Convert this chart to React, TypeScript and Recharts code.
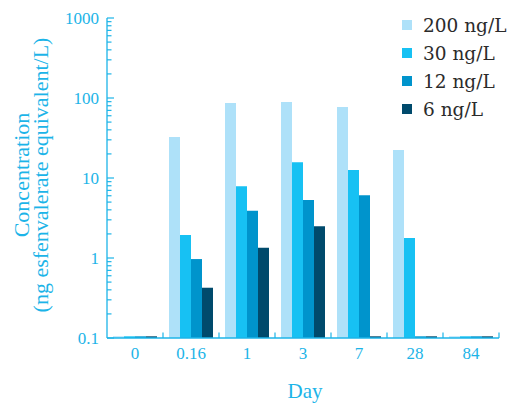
import { BarChart, Bar, XAxis, YAxis, Legend } from "recharts";

const days = ["0", "0.16", "1", "3", "7", "28", "84"];
const conc200 = [0.105, 32.5, 86.6, 89, 77, 22.4, 0.105];
const conc30 = [0.105, 1.94, 7.9, 15.7, 12.6, 1.78, 0.105];
const conc12 = [0.105, 0.97, 3.9, 5.3, 6.1, 0.105, 0.105];
const conc6 = [0.105, 0.425, 1.34, 2.5, 0.105, 0.105, 0.105];
const majorTicks = [0.1, 1, 10, 100, 1000];

const seriesNames = ["200 ng/L", "30 ng/L", "12 ng/L", "6 ng/L"];
const seriesKeys = ["c200", "c30", "c12", "c6"];
const colors = ["#aee1f9", "#17c1f3", "#0094cc", "#004a6c"];

const CYAN = "#1cb4e8";
const SERIF = "'Liberation Serif', serif";
const LEGEND_FONT = "'DejaVu Serif', serif";
const WIDTH = 514;
const HEIGHT = 405;
const PLOT_LEFT = 107;
const PLOT_RIGHT = 499;
const BAND = (PLOT_RIGHT - PLOT_LEFT) / days.length;

const data = days.map((day, i) => ({
  day,
  c200: conc200[i],
  c30: conc30[i],
  c12: conc12[i],
  c6: conc6[i],
}));

// major decades plus 2..9 minor ticks
const yTicks: number[] = [];
majorTicks.forEach((m, i) => {
  yTicks.push(m);
  if (i < majorTicks.length - 1) {
    for (let k = 2; k <= 9; k++) yTicks.push(m * k);
  }
});

function YTick(props: any) {
  const { x, y, payload } = props;
  const v = payload.value;
  const major = majorTicks.some((m) => Math.abs(m - v) < 1e-9);
  return (
    <g>
      <line x1={x} x2={x + (major ? 7 : 4.5)} y1={y} y2={y} stroke={CYAN} strokeWidth={1.2} />
      {major && (
        <text
          x={x - 8}
          y={y}
          textAnchor="end"
          dominantBaseline="central"
          fill={CYAN}
          fontFamily={SERIF}
          fontSize={17}
        >
          {v}
        </text>
      )}
    </g>
  );
}

function XTick(props: any) {
  const { x, y, payload } = props;
  const bx = x + BAND / 2;
  return (
    <g>
      <line x1={bx} x2={bx} y1={y} y2={y - 5.5} stroke={CYAN} strokeWidth={1.2} />
      <text
        x={x}
        y={y + 15}
        textAnchor="middle"
        dominantBaseline="central"
        fill={CYAN}
        fontFamily={SERIF}
        fontSize={17}
      >
        {payload.value}
      </text>
    </g>
  );
}

function YTitle(props: any) {
  const vb = props.viewBox || { y: 18, height: 320 };
  const cy = vb.y + vb.height / 2 - 3;
  return (
    <g fill={CYAN} fontFamily={SERIF} fontSize={22} textAnchor="middle">
      <text transform={`translate(21, ${cy}) rotate(-90)`} dominantBaseline="central">
        Concentration
      </text>
      <text transform={`translate(40, ${cy}) rotate(-90)`} dominantBaseline="central">
        (ng esfenvalerate equivalent/L)
      </text>
    </g>
  );
}

function XTitle(props: any) {
  const vb = props.viewBox || { x: PLOT_LEFT, width: PLOT_RIGHT - PLOT_LEFT };
  return (
    <text x={vb.x + vb.width / 2 + 2} y={398} textAnchor="middle" fill={CYAN} fontFamily={SERIF} fontSize={21}>
      Day
    </text>
  );
}

function LegendBox() {
  return (
    <div style={{ fontFamily: LEGEND_FONT, fontSize: 18.5, color: "#2b2b2b" }}>
      {seriesNames.map((name, i) => (
        <div key={name} style={{ display: "flex", alignItems: "center", height: 28 }}>
          <span
            style={{ width: 10, height: 10, background: colors[i], display: "inline-block", marginRight: 11 }}
          />
          <span>{name}</span>
        </div>
      ))}
    </div>
  );
}

export default function App() {
  return (
    <div style={{ position: "absolute", left: 0, top: 0, width: WIDTH, height: HEIGHT, background: "#fff" }}>
      <BarChart
        width={WIDTH}
        height={HEIGHT}
        data={data}
        margin={{ top: 18, right: WIDTH - PLOT_RIGHT, left: 0, bottom: 0 }}
        barCategoryGap={6}
        barGap={0}
      >
        <XAxis
          dataKey="day"
          height={HEIGHT - 338}
          axisLine={{ stroke: CYAN, strokeWidth: 1.3 }}
          tickLine={false}
          tickSize={0}
          tickMargin={0}
          interval={0}
          tick={<XTick />}
          label={<XTitle />}
        />
        <YAxis
          scale="log"
          domain={[0.1, 1000]}
          ticks={yTicks}
          interval={0}
          allowDataOverflow
          width={PLOT_LEFT}
          axisLine={{ stroke: CYAN, strokeWidth: 1.3 }}
          tickLine={false}
          tickSize={0}
          tickMargin={0}
          tick={<YTick />}
          label={<YTitle />}
        />
        <Legend
          layout="vertical"
          align="center"
          verticalAlign="middle"
          wrapperStyle={{ left: 402, top: 11, width: 112 }}
          content={<LegendBox />}
        />
        {seriesKeys.map((k, i) => (
          <Bar key={k} dataKey={k} name={seriesNames[i]} fill={colors[i]} isAnimationActive={false} />
        ))}
      </BarChart>
    </div>
  );
}
